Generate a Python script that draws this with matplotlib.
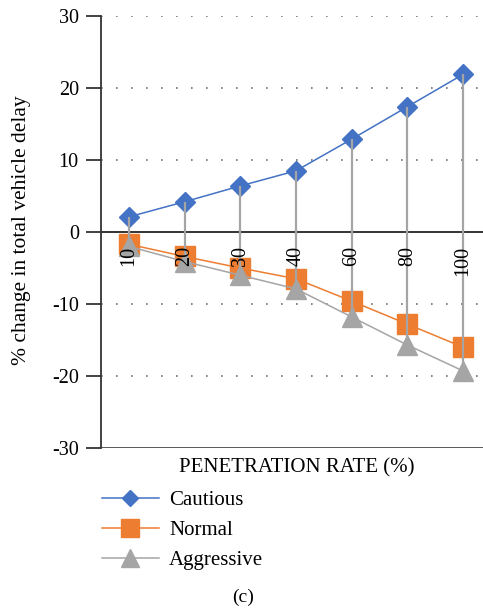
import matplotlib.pyplot as plt
import matplotlib.transforms as mtransforms
import numpy as np

plt.rcParams['font.family'] = ['Liberation Serif', 'DejaVu Serif']

# data
rates = ['10', '20', '30', '40', '60', '80', '100']
cautious = [2.1, 4.2, 6.4, 8.5, 12.9, 17.4, 21.9]
normal = [-1.7, -3.4, -5.0, -6.5, -9.6, -12.8, -16.0]
aggressive = [-2.0, -4.1, -6.0, -7.9, -11.8, -15.7, -19.3]

x = np.arange(len(rates))

fig = plt.figure(figsize=(4.83, 6.12), dpi=100)
ax = fig.add_axes([101 / 483, 1 - 448 / 612, 390 / 483, 432 / 612])

# high-low lines
hi = np.max([cautious, normal, aggressive], axis=0)
lo = np.min([cautious, normal, aggressive], axis=0)
ax.vlines(x, lo, hi, color='#A5A5A5', lw=1.6, zorder=6)

ax.plot(x, cautious, color='#4472C4', lw=1.1, marker='D', ms=10,
        label='Cautious', zorder=4)
ax.plot(x, normal, color='#ED7D31', lw=1.1, marker='s', ms=14.5,
        label='Normal', zorder=3)
ax.plot(x, aggressive, color='#A5A5A5', lw=1.1, marker='^', ms=15,
        label='Aggressive', zorder=5)

ax.set_xlim(-0.5, 6.5)
ax.set_ylim(-30, 30)
ax.set_yticks([-30, -20, -10, 0, 10, 20, 30])
ax.set_yticklabels(['-30', '-20', '-10', '0', '10', '20', '30'])
ax.tick_params(axis='y', length=11, width=1.3, pad=5, labelsize=14.5, color='#333333')
ax.set_xticks([])

for s in ['top', 'right', 'bottom']:
    ax.spines[s].set_visible(False)
ax.spines['left'].set_color('#333333')
ax.spines['left'].set_linewidth(1.3)

for g in [-20, -10, 10, 20, 30]:
    ax.axhline(g, color='#6F6F6F', lw=1.2, ls=(0, (1, 8)), zorder=0)
ax.axhline(0, color='#333333', lw=1.4, zorder=2)
ax.axhline(-30, color='#595959', lw=1.4, zorder=2)

# category labels below the zero line
off = mtransforms.offset_copy(ax.transData, fig=fig, x=0, y=-14, units='dots')
for xi, lab in zip(x, rates):
    ax.text(xi, 0, lab, rotation=90, ha='center', va='top', fontsize=14.5,
            transform=off, zorder=8)

ax.set_ylabel('% change in total vehicle delay', fontsize=15.5)
ax.yaxis.set_label_coords(-0.18, 0.505)

fig.text(297 / 483, 1 - 468 / 612, 'PENETRATION RATE (%)', ha='center',
         va='center', fontsize=15)

leg = fig.legend(loc='upper left', bbox_to_anchor=(94 / 483, 1 - 482 / 612),
                 frameon=False, fontsize=15, handlelength=2.7, markerscale=0.85,
                 handletextpad=0.5, labelspacing=0.5, borderaxespad=0)

fig.text(243 / 483, 1 - 597 / 612, '(c)', ha='center', va='center', fontsize=14)

fig.savefig('out.png', dpi=100)
